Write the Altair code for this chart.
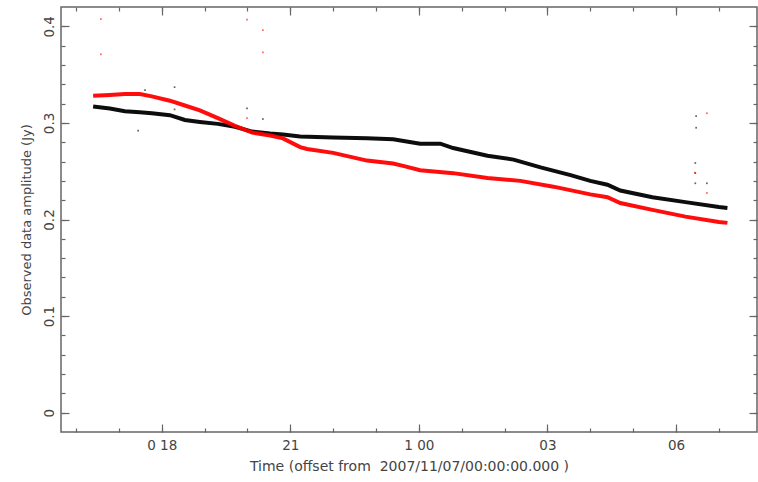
import altair as alt
import pandas as pd

# Time axis: hours since 2007/11/07 00:00:00 (values > 24 fall on the next day)
black_hours = [16.40, 16.79, 17.14, 17.49, 17.77, 18.19, 18.54, 18.89, 19.31, 19.71,
               20.11, 20.53, 20.83, 21.23, 22.00, 22.79, 23.40, 23.68, 24.03, 24.50,
               24.80, 25.60, 26.21, 26.84, 27.54, 28.00, 28.40, 28.70, 29.45, 30.22,
               31.00, 31.20]
black_amp = [0.317, 0.315, 0.312, 0.311, 0.310, 0.308, 0.303, 0.301, 0.299, 0.296,
             0.291, 0.289, 0.288, 0.286, 0.285, 0.284, 0.283, 0.281, 0.2785, 0.2785,
             0.274, 0.266, 0.262, 0.254, 0.246, 0.240, 0.236, 0.230, 0.223, 0.218,
             0.213, 0.212]

red_hours = [16.40, 16.79, 17.14, 17.49, 17.77, 18.19, 18.54, 18.89, 19.31, 19.71,
             20.11, 20.53, 20.83, 21.23, 21.39, 22.00, 22.79, 23.40, 23.68, 24.03,
             24.80, 25.60, 26.37, 27.14, 28.00, 28.40, 28.70, 29.45, 30.22, 31.00,
             31.20]
red_amp = [0.328, 0.329, 0.330, 0.330, 0.3275, 0.323, 0.318, 0.313, 0.305, 0.297,
           0.290, 0.287, 0.284, 0.275, 0.273, 0.269, 0.261, 0.258, 0.255, 0.251,
           0.248, 0.243, 0.240, 0.234, 0.226, 0.223, 0.217, 0.210, 0.203, 0.1975,
           0.1965]

# Stray samples away from the main tracks
stray_hours = [17.61, 18.30, 18.30, 17.45, 19.99, 20.36, 30.47, 30.47, 30.45, 30.45, 30.45, 30.72,
               16.58, 16.58, 19.99, 19.99, 20.36, 20.36, 30.72, 30.72, 30.44]
stray_amp = [0.334, 0.337, 0.314, 0.292, 0.315, 0.304, 0.307, 0.295, 0.2585, 0.248, 0.2375, 0.2375,
             0.4075, 0.371, 0.407, 0.305, 0.396, 0.373, 0.310, 0.2275, 0.2485]
stray_corr = ["c1"] * 12 + ["c2"] * 9

major_hours = [18, 21, 24, 27, 30]
minor_hours = list(range(16, 32))
major_amp = [0.0, 0.1, 0.2, 0.3, 0.4]
minor_amp = [round(0.02 * i, 2) for i in range(0, 21)]

tracks = pd.concat([
    pd.DataFrame({"hours": black_hours, "amp": black_amp, "corr": "c1"}),
    pd.DataFrame({"hours": red_hours, "amp": red_amp, "corr": "c2"}),
])
strays = pd.DataFrame({"hours": stray_hours, "amp": stray_amp, "corr": stray_corr})

xscale = alt.Scale(domain=[15.65, 31.89], nice=False, zero=False)
yscale = alt.Scale(domain=[-0.02, 0.42], nice=False, zero=False)
cscale = alt.Scale(domain=["c1", "c2"], range=["#000000", "#ff0000"])

FONT = "DejaVu Sans"
TICK = "#666666"
LABEL = "#444444"


def tick_axis(orient, values, size):
    return alt.Axis(orient=orient, values=values, tickSize=size, offset=-size,
                    labels=False, domain=False, grid=False, title=None,
                    tickColor=TICK, tickWidth=1.2)


label_expr = ("datum.value == 18 ? '0 18' : datum.value == 24 ? '1 00' : "
              "((datum.value % 24) < 10 ? '0' : '') + (datum.value % 24)")

x_main = alt.Axis(orient="bottom", values=major_hours, tickSize=8, offset=-8,
                  domain=False, grid=False, labelExpr=label_expr,
                  labelPadding=6, labelFontSize=13.5, labelColor=LABEL, labelFont=FONT,
                  tickColor=TICK, tickWidth=1.2,
                  title="Time (offset from\u00a0 2007/11/07/00:00:00.000 )",
                  titleFontSize=14, titleFontWeight="normal", titleColor=LABEL,
                  titleFont=FONT, titlePadding=8)
y_main = alt.Axis(orient="left", values=major_amp, tickSize=8, offset=-8,
                  domain=False, grid=False, format=".1~f",
                  labelAngle=270, labelAlign="center", labelBaseline="bottom",
                  labelPadding=5, labelFontSize=13.5, labelColor=LABEL, labelFont=FONT,
                  tickColor=TICK, tickWidth=1.2,
                  title="Observed data amplitude (Jy)", titleFontSize=13,
                  titleFontWeight="normal", titleColor=LABEL, titleFont=FONT,
                  titlePadding=9)

lines = alt.Chart(tracks).mark_line(strokeWidth=4, opacity=0.95).encode(
    x=alt.X("hours:Q", scale=xscale, axis=x_main),
    y=alt.Y("amp:Q", scale=yscale, axis=y_main),
    color=alt.Color("corr:N", scale=cscale, legend=None),
    order=alt.Order("hours:Q"),
    detail="corr:N",
)

dots = alt.Chart(strays).mark_square(size=3, opacity=0.6).encode(
    x=alt.X("hours:Q", scale=xscale, axis=None),
    y=alt.Y("amp:Q", scale=yscale, axis=None),
    color=alt.Color("corr:N", scale=cscale, legend=None),
)


def frame_ticks(xaxis, yaxis):
    return alt.Chart(tracks).mark_point(opacity=0).encode(
        x=alt.X("hours:Q", scale=xscale, axis=xaxis),
        y=alt.Y("amp:Q", scale=yscale, axis=yaxis),
    )


ticks_bl_minor = frame_ticks(tick_axis("bottom", minor_hours, 4), tick_axis("left", minor_amp, 4))
ticks_tr_major = frame_ticks(tick_axis("top", major_hours, 8), tick_axis("right", major_amp, 8))
ticks_tr_minor = frame_ticks(tick_axis("top", minor_hours, 4), tick_axis("right", minor_amp, 4))

chart = alt.layer(
    ticks_bl_minor, ticks_tr_major, ticks_tr_minor, lines, dots
).resolve_axis(
    x="independent", y="independent"
).properties(
    width=696, height=425,
    autosize=alt.AutoSizeParams(type="none"),
    padding={"left": 61, "top": 7, "right": 1, "bottom": 50},
    background="white",
).configure_view(
    stroke="#666666", strokeWidth=1.5
)

chart.save("out.html", embed_options={"renderer": "svg", "actions": False})
